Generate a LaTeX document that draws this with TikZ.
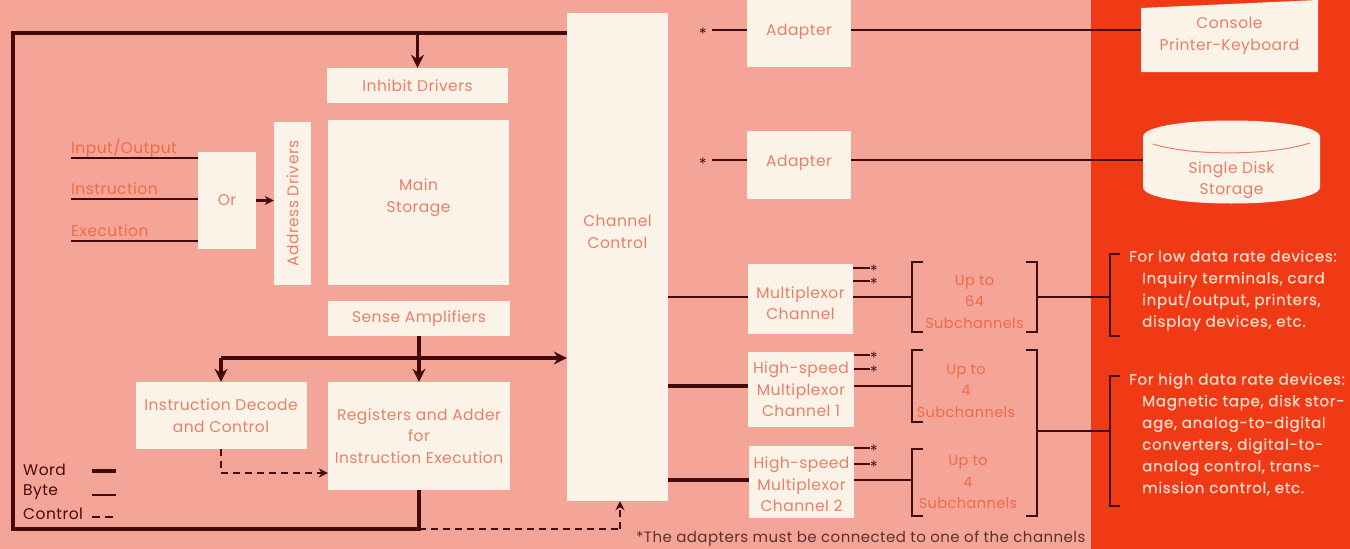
\documentclass[tikz,border=0pt]{standalone}
\usepackage{fontspec}
\setmainfont{Poppins}
\usetikzlibrary{arrows.meta,positioning}
\definecolor{pinkbg}{HTML}{F5A598}
\definecolor{redbg}{HTML}{F03A15}
\definecolor{boxfill}{HTML}{FBF3E8}
\definecolor{boxtext}{HTML}{E97F68}
\definecolor{subtext}{HTML}{EF6A48}
\definecolor{wire}{HTML}{420A0D}
\definecolor{paneltext}{HTML}{FFDCCB}
\newcommand{\labfont}{\fontsize{15.5}{21.5}\selectfont\addfontfeature{LetterSpace=3}}
\newcommand{\subfont}{\fontsize{14.5}{21.5}\selectfont\addfontfeature{LetterSpace=3}}
\newcommand{\panelfont}{\fontsize{15}{21.7}\selectfont\addfontfeature{LetterSpace=5,FakeBold=0.6}}
\tikzset{
  box/.style={fill=boxfill, text=boxtext, inner sep=0pt, align=center, font=\labfont},
  plain/.style={inner sep=0pt, align=center, font=\labfont},
  subs/.style={inner sep=0pt, align=center, text=subtext, font=\subfont},
  word/.style={draw=wire, line width=3.6pt},
  byte/.style={draw=wire, line width=2pt},
  ctrl/.style={draw=wire, line width=2pt, dash pattern=on 7pt off 5pt},
  wordarrow/.style={word, -{Stealth[length=13pt, width=13pt]}},
  ctrlarrow/.style={ctrl, -{Stealth[length=9pt, width=9pt]}},
}
\begin{document}
\begin{tikzpicture}[x=1pt, y=-1pt]
    \fill[pinkbg] (0,0) rectangle (1350,549);
    \fill[redbg] (1091,0) rectangle (1350,549);
    \useasboundingbox (0,0) rectangle (1350,549);
    % storage side
    \node[box, minimum width=181pt, minimum height=35pt] (inhibit) at (417.5,85.5) {Inhibit Drivers};
    \node[box, minimum width=181pt, minimum height=165pt, text depth=14pt] (mainstore) at (418.5,202.5) {Main\\Storage};
    \node[box, minimum width=163pt, minimum height=37pt, rotate=90] (addr) at (292.5,203.5) {Address Drivers};
    \node[box, minimum width=58pt, minimum height=97pt] (orgate) at (227,200.5) {Or};
    \node[box, minimum width=182pt, minimum height=35pt] (sense) at (419,318.5) {Sense Amplifiers};
    \node[box, minimum width=171pt, minimum height=67pt] (decode) at (221,415.5) {Instruction Decode\\and Control};
    \node[box, minimum width=182pt, minimum height=108pt] (regs) at (419,436) {Registers and Adder\\for\\Instruction Execution};
    \node[box, minimum width=101pt, minimum height=488pt, text depth=50pt] (chan) at (617.5,257) {Channel\\Control};
    % inputs of the or box
    \foreach \name/\txt/\ypos in {inio/Input\slash Output/158, inin/Instruction/199, inex/Execution/241} {
      \coordinate (\name) at (71,\ypos);
      \node[plain, anchor=base west, text=subtext, yshift=5pt] (\name t) at (\name) {\txt};
      \draw[byte] (\name) -- (orgate.west |- \name);
    }
    \draw[word, line width=2.5pt, -{Stealth[length=9pt, width=9pt]}] (orgate.east) -- (orgate.east -| addr.north);
    % word bus
    \coordinate (cornertl) at (13,33);
    \coordinate (cornerbl) at (13,529);
    \coordinate (busy) at (221,358);
    \draw[word] (regs.south) |- (cornerbl) -- (cornertl) -- (chan.west |- cornertl);
    \draw[wordarrow] (inhibit.north |- cornertl) -- (inhibit.north);
    \draw[wordarrow] (sense.south) -- (sense.south |- regs.north);
    \draw[wordarrow] (decode.north |- busy) -- (chan.west |- busy);
    \draw[wordarrow] (busy) -- (decode.north);
    % control lines
    \draw[ctrlarrow] (decode.south) |- (regs.west |- 0,473);
    \coordinate (ctrlturn) at (620,529);
    \draw[ctrl] (regs.south |- cornerbl) -- (ctrlturn);
    \draw[ctrlarrow] (ctrlturn) -- (ctrlturn |- chan.south);
    % legend
    \node[plain, anchor=west, text=wire] (lword) at (23,470) {Word};
    \node[plain, anchor=west, text=wire] (lbyte) at (23,492) {Byte};
    \node[plain, anchor=west, text=wire] (lctrl) at (23,514) {Control};
    \coordinate (lwa) at (92,471);
    \coordinate (lwb) at (116,471);
    \draw[word] (lwa) -- (lwb);
    \draw[byte] (lwa |- 0,495) -- (lwb |- 0,495);
    \draw[ctrl, dash pattern=on 8pt off 5pt] (lwa |- 0,517) -- (lwb |- 0,517);
    % adapters
    \node[box, minimum width=104pt, minimum height=67pt, text depth=8pt] (adapt1) at (799,33.5) {Adapter};
    \node[box, minimum width=104pt, minimum height=68pt, text depth=8pt] (adapt2) at (799,165) {Adapter};
    \node[plain, text=wire] (adst1) at (703,34) {*};
    \node[plain, text=wire] (adst2) at (703,164) {*};
    \coordinate (adin1) at (712,30);
    \coordinate (adin2) at (712,160);
    \draw[byte] (adin1) -- (adapt1.west |- adin1);
    \draw[byte] (adin2) -- (adapt2.west |- adin2);
    % devices
    \fill[boxfill] (1141,8) -- (1318,0) -- (1318,72) -- (1141,72) -- cycle;
    \node[plain, text=boxtext, minimum width=177pt, minimum height=64pt] (console) at (1229.5,36) {Console\\Printer-Keyboard};
    \fill[boxfill] (1143,137) .. controls (1143,115) and (1320,115) .. (1320,137) -- (1320,187) .. controls (1320,209) and (1143,209) .. (1143,187) -- cycle;
    \draw[boxtext, line width=1pt] (1153,144) .. controls (1190,156) and (1270,156) .. (1310,143);
    \node[plain, text=boxtext, minimum width=177pt, minimum height=50pt] (disk) at (1231.5,180) {Single Disk\\Storage};
    \draw[byte] (adapt1.east |- adin1) -- (adin1 -| console.west);
    \draw[byte] (adapt2.east |- adin2) -- (adin2 -| disk.west);
    % channels
    \node[box, minimum width=105pt, minimum height=70pt] (mpx) at (800.5,299) {\rule{0pt}{20pt}Multiplexor\\Channel};
    \node[box, minimum width=106pt, minimum height=75pt] (hs1) at (801,389.5) {High-speed\\Multiplexor\\Channel 1};
    \node[box, minimum width=105pt, minimum height=72pt] (hs2) at (801.5,482) {\rule{0pt}{17pt}High-speed\\Multiplexor\\Channel 2};
    \foreach \ch/\ya/\yb in {mpx/268/281, hs1/355/369, hs2/448/464} {
      \node[plain, text=wire, anchor=west] (\ch a) at (870,\ya+3) {*};
      \node[plain, text=wire, anchor=west] (\ch b) at (870,\yb+3) {*};
      \coordinate (\ch c) at (870,\ya);
      \coordinate (\ch d) at (870,\yb);
      \draw[byte] (\ch.east |- \ch c) -- (\ch c);
      \draw[byte] (\ch.east |- \ch d) -- (\ch d);
    }
    % subchannels
    \node[subs, minimum width=125pt, minimum height=70pt] (sub1) at (974.5,297) {\rule{0pt}{20pt}Up to\\64\\Subchannels};
    \node[subs, minimum width=108pt, minimum height=72pt] (sub2) at (966,386) {\rule{0pt}{20pt}Up to\\4\\Subchannels};
    \node[subs, minimum width=112pt, minimum height=67pt] (sub3) at (968,482.5) {Up to\\4\\Subchannels};
    \foreach \sb in {sub1, sub2, sub3}
      \draw[byte] ([xshift=11pt]\sb.north west) -- (\sb.north west) -- (\sb.south west) -- ([xshift=11pt]\sb.south west);
    \draw[byte] ([xshift=-11pt]sub1.north east) -- (sub1.north east) -- (sub1.south east) -- ([xshift=-11pt]sub1.south east);
    \coordinate (hitop) at (1037,350);
    \coordinate (hibot) at (1037,516);
    \draw[byte] ([xshift=-11pt]hitop) -- (hitop) -- (hibot) -- ([xshift=-11pt]hibot);
    % channel links
    \coordinate (link3) at (912,480);
    \draw[byte] (chan.east |- sub1) -- (mpx.west |- sub1);
    \draw[word] (chan.east |- sub2) -- (hs1.west |- sub2);
    \draw[word] (chan.east |- link3) -- (hs2.west |- link3);
    \draw[byte] (mpx.east |- sub1) -- (sub1.west);
    \draw[byte] (hs1.east |- sub2) -- (sub2.west);
    \draw[byte] (hs2.east |- link3) -- (link3);
    % panel text
    \node[plain, align=left, anchor=north west, text=paneltext, font=\panelfont] (lowtxt) at (1129,250) {For low data rate devices:\\\hspace*{13pt}Inquiry terminals, card\\\hspace*{13pt}input/output, printers,\\\hspace*{13pt}display devices, etc.};
    \node[plain, align=left, anchor=north west, text=paneltext, font=\panelfont] (hightxt) at (1129,373) {For high data rate devices:\\\hspace*{13pt}Magnetic tape, disk stor-\\\hspace*{13pt}age, analog-to-digital\\\hspace*{13pt}converters, digital-to-\\\hspace*{13pt}analog control, trans-\\\hspace*{13pt}mission control, etc.};
    \coordinate (lowbr) at (1110,295);
    \coordinate (highbr) at (1110,431);
    \draw[byte] (1120,254) -- (1110,254) -- (1110,336) -- (1120,336);
    \draw[byte] (1120,376) -- (1110,376) -- (1110,506) -- (1120,506);
    \draw[byte] (sub1.east) -- (sub1.east -| lowbr);
    \draw[byte] (hitop |- highbr) -- (highbr);
    % footnote
    \node[plain, anchor=west, text=wire!85, font=\fontsize{15}{18}\selectfont\addfontfeature{LetterSpace=3}] (note) at (636,539) {*The adapters must be connected to one of the channels};
\end{tikzpicture}
\end{document}
